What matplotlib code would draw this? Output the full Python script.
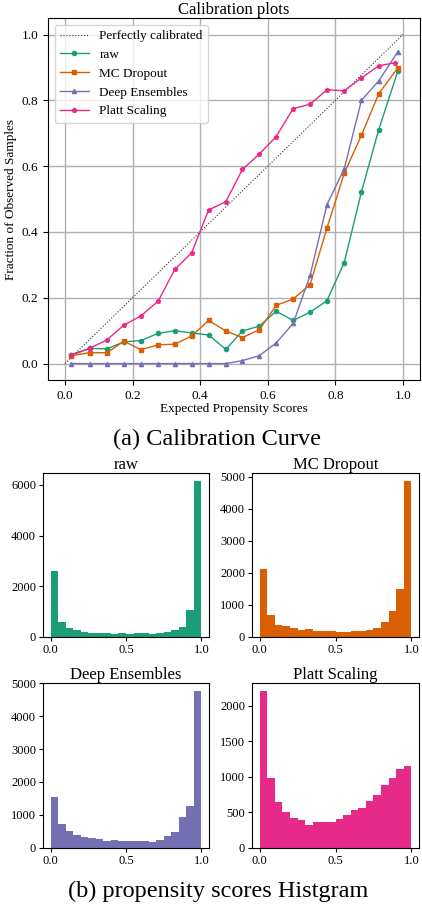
import numpy as np
import matplotlib
matplotlib.use("Agg")
import matplotlib.pyplot as plt

plt.rcParams['font.family'] = ['Liberation Serif', 'DejaVu Serif']

# calibration curve data (mean predicted value, fraction of positives)
xMid = [0.018, 0.073, 0.124, 0.175, 0.225, 0.276, 0.325, 0.375, 0.425, 0.476,
        0.525, 0.575, 0.625, 0.675, 0.725, 0.775, 0.826, 0.877, 0.928]
rawX = xMid + [0.985]
rawY = [0.025, 0.046, 0.045, 0.066, 0.070, 0.092, 0.100, 0.093, 0.087, 0.043,
        0.099, 0.114, 0.159, 0.131, 0.156, 0.191, 0.307, 0.522, 0.711, 0.890]
mcX = xMid + [0.984]
mcY = [0.024, 0.033, 0.033, 0.068, 0.042, 0.057, 0.059, 0.084, 0.131, 0.099,
       0.079, 0.103, 0.177, 0.196, 0.240, 0.412, 0.578, 0.694, 0.820, 0.898]
deX = xMid + [0.984]
deY = [0.0, 0.0, 0.0, 0.0, 0.0, 0.0, 0.0, 0.0, 0.0, 0.0,
       0.009, 0.024, 0.063, 0.122, 0.268, 0.483, 0.592, 0.800, 0.859, 0.947]
plattX = xMid + [0.975]
plattY = [0.027, 0.046, 0.072, 0.117, 0.145, 0.190, 0.286, 0.337, 0.467, 0.492,
          0.590, 0.637, 0.690, 0.775, 0.788, 0.832, 0.829, 0.868, 0.905, 0.914]

# histogram counts, 20 equal bins on [0, 1]
binEdges = np.linspace(0, 1, 21)
rawCounts = [2590, 600, 360, 280, 200, 160, 160, 160, 120, 160,
             120, 160, 160, 120, 160, 200, 280, 400, 1080, 6160]
mcCounts = [2110, 695, 380, 345, 285, 220, 255, 190, 190, 190,
            160, 160, 190, 190, 220, 285, 475, 820, 1515, 4880]
deCounts = [1530, 705, 520, 400, 340, 305, 275, 215, 245, 215,
            215, 215, 215, 185, 245, 365, 490, 920, 1255, 4770]
plattCounts = [2210, 985, 643, 500, 414, 386, 314, 357, 357, 357,
               400, 457, 528, 557, 657, 743, 885, 985, 1110, 1150]

names = ["raw", "MC Dropout", "Deep Ensembles", "Platt Scaling"]
colors = ["#1b9e77", "#d95f02", "#7570b3", "#e7298a"]
markers = ["o", "s", "^", "p"]

fig = plt.figure(figsize=(4.22, 9.07), dpi=100)

# (a) calibration curve
ax = fig.add_axes([0.1137, 0.581, 0.8815, 0.3991])
ax.plot([0, 1], [0, 1], ":", color="#333333", linewidth=0.8, label="Perfectly calibrated")
curves = [(rawX, rawY), (mcX, mcY), (deX, deY), (plattX, plattY)]
for (cx, cy), name, c, m in zip(curves, names, colors, markers):
    ax.plot(cx, cy, marker=m, markersize=3, linewidth=1, color=c, label=name)
ax.set_xlim(-0.05, 1.05)
ax.set_ylim(-0.05, 1.05)
ax.grid(color="#b0b0b0", linewidth=1.0)
ax.set_axisbelow(True)
ax.tick_params(labelsize=9.5)
ax.set_title("Calibration plots", fontsize=12, pad=2)
ax.set_xlabel("Expected Propensity Scores", fontsize=9.5, labelpad=1)
ax.set_ylabel("Fraction of Observed Samples", fontsize=9.5, labelpad=3)
ax.legend(loc="upper left", fontsize=9.5, borderpad=0.4, labelspacing=0.5,
          handlelength=2.2)

fig.text(0.515, 0.516, "(a) Calibration Curve", fontsize=17.5,
         ha="center", va="center")

# (b) histograms
histPos = [[0.1019, 0.2977, 0.3934, 0.1808],
           [0.5972, 0.2977, 0.3957, 0.1808],
           [0.1019, 0.0654, 0.3934, 0.1816],
           [0.5972, 0.0654, 0.3957, 0.1816]]
allCounts = [rawCounts, mcCounts, deCounts, plattCounts]
centers = (binEdges[:-1] + binEdges[1:]) / 2
for pos, counts, name, c in zip(histPos, allCounts, names, colors):
    hax = fig.add_axes(pos)
    hax.hist(centers, bins=binEdges, weights=counts, color=c)
    hax.set_xticks([0.0, 0.5, 1.0])
    hax.tick_params(labelsize=9, length=3, pad=2)
    hax.set_title(name, fontsize=12, pad=3)

fig.text(0.517, 0.0176, "(b) propensity scores Histgram", fontsize=17.5,
         ha="center", va="center")

fig.savefig("out.png", dpi=100)
